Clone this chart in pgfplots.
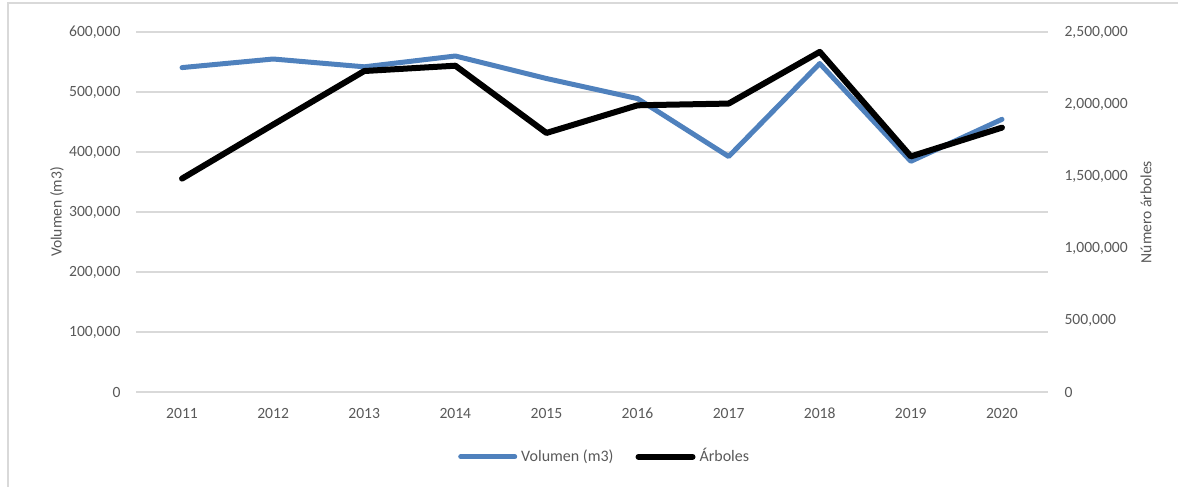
\documentclass[border=0pt]{standalone}
\usepackage{fontspec}
\setmainfont{Carlito}
\usepackage{pgfplots}
\pgfplotsset{compat=1.18}
\definecolor{txt}{RGB}{89,89,89}
\definecolor{gridc}{RGB}{217,217,217}
\definecolor{vol}{RGB}{79,129,189}
\pgfplotsset{
 common/.style={
  at={(68.25pt,47.5pt)}, anchor=south west,
  scale only axis, width=455.5pt, height=180pt,
  xmin=2010.5, xmax=2020.5, ymin=0,
  axis line style={draw=none},
  major tick length=0pt,
  tick label style={font=\fontsize{7.8}{9}\selectfont, text=txt},
  /pgf/number format/assume math mode=true,
  scaled y ticks=false,
  yticklabel style={/pgf/number format/fixed, /pgf/number format/1000 sep={,}},
 }
}
\begin{document}
\begin{tikzpicture}[x=1pt,y=1pt]
\path[use as bounding box] (0,0) rectangle (589,243.5);
\draw[gridc, line width=0.75pt] (4,0) -- (4,242) -- (589,242);
\begin{axis}[common,
  ymax=600000, ytick={0,100000,...,600000},
  ymajorgrids, grid style={gridc, line width=0.8pt},
  xtick={2011,...,2020},
  xticklabel style={/pgf/number format/1000 sep={}, anchor=north, yshift=-4.5pt},
  yticklabel style={anchor=east, xshift=-4.5pt},
  ylabel={Volumen (m3)},
  every axis y label/.style={at={(axis description cs:-0.0873,0.5)}, rotate=90, anchor=center,
    font=\fontsize{7.8}{9}\selectfont, text=txt},
]
\addplot[vol, line width=2.5pt, line join=round, line cap=round] coordinates {
(2011,540700) (2012,555000) (2013,542000) (2014,560000) (2015,522500)
(2016,489000) (2017,392500) (2018,547500) (2019,384500) (2020,454500)};
\end{axis}
\begin{axis}[common,
  ymax=2500000, ytick={0,500000,...,2500000},
  xtick=\empty,
  yticklabel pos=right,
  yticklabel style={anchor=west, xshift=5pt},
  ylabel={Número árboles},
  every axis y label/.style={at={(axis description cs:1.108,0.5)}, rotate=90, anchor=center,
    font=\fontsize{7.8}{9}\selectfont, text=txt},
  legend style={at={(0.515,-0.18)}, anchor=center, legend columns=2, draw=none, fill=none,
    font=\fontsize{8}{9}\selectfont, text=txt,
    /tikz/every even column/.append style={column sep=9pt}},
  legend image code/.code={\draw[#1] (0pt,0pt) -- (27pt,0pt);},
]
\addlegendimage{vol, line width=2.5pt, line cap=round}
\addlegendentry{Volumen (m3)}
\addplot[black, line width=3pt, line join=round, line cap=round] coordinates {
(2011,1482000) (2012,1857000) (2013,2229000) (2014,2266000) (2015,1799000)
(2016,1991000) (2017,2003000) (2018,2362000) (2019,1636000) (2020,1836000)};
\addlegendentry{Árboles}
\end{axis}
\end{tikzpicture}
\end{document}
